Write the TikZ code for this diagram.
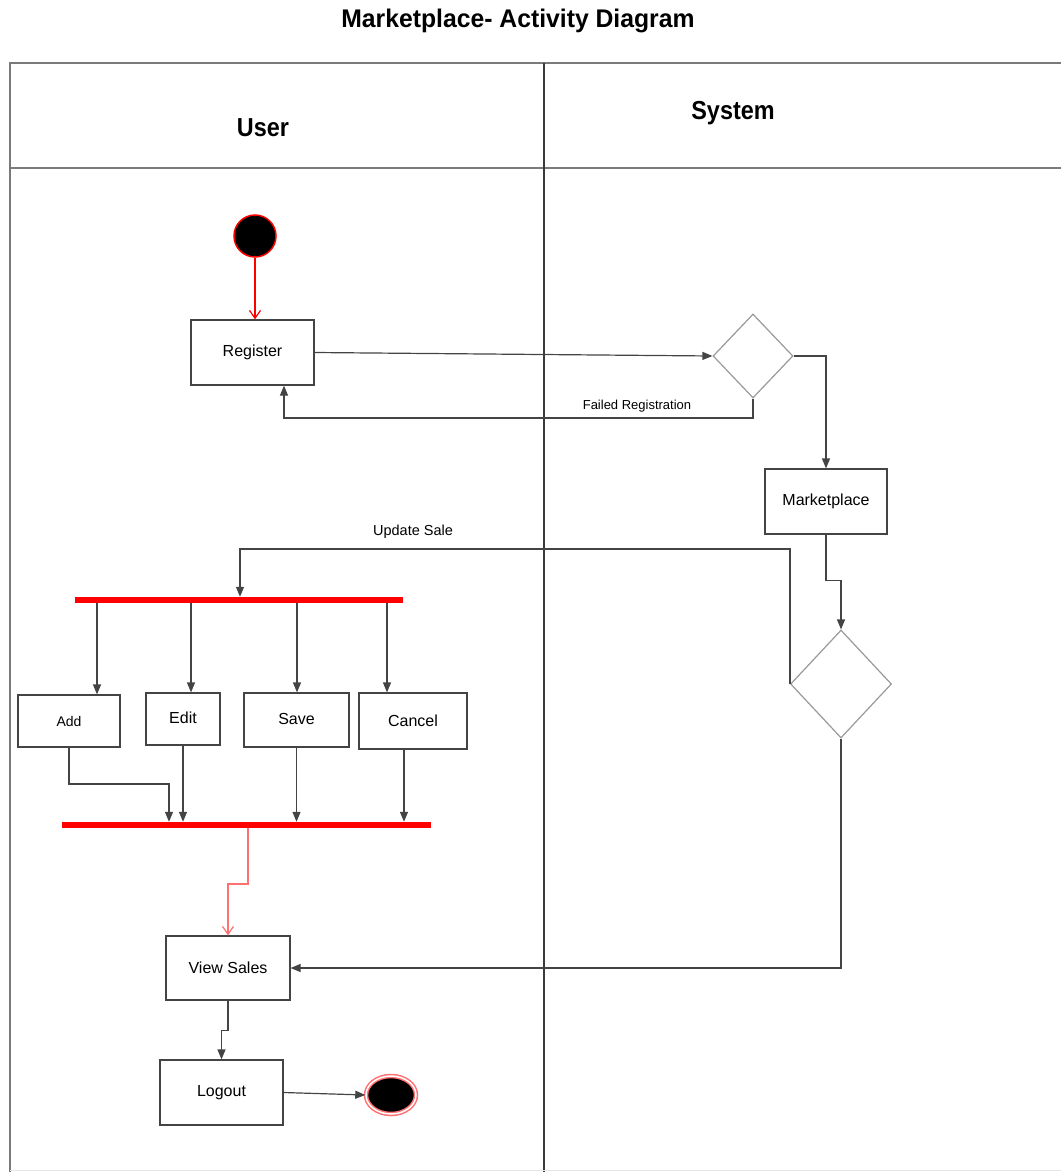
\documentclass[tikz,border=0pt]{standalone}
\usepackage{fontspec}
\setmainfont{Liberation Sans}
\usetikzlibrary{arrows.meta,shapes.geometric,calc}
\definecolor{lane}{HTML}{7A7A7A}
\definecolor{lanedark}{HTML}{3A3A3A}
\definecolor{conncol}{HTML}{444444}
\definecolor{barred}{HTML}{FF0000}
\definecolor{pinkline}{HTML}{FF7070}
\tikzset{
  actbox/.style={draw=conncol, line width=1.2pt, fill=white, inner sep=0pt, font=\fontsize{16}{19}\selectfont},
  decide/.style={draw=gray!80, line width=1.2pt, diamond, inner sep=0pt},
  syncbar/.style={fill=barred, inner sep=0pt, minimum height=6pt},
  conn/.style={draw=conncol, line width=1.2pt, -{Triangle[length=10pt,width=8pt]}},
  pinkconn/.style={draw=pinkline, line width=1.2pt, -{Straight Barb[length=8pt,width=11pt]}},
  lanel/.style={line width=2pt, draw=lane},
  lbl/.style={inner sep=0pt, font=\fontsize{13}{15}\selectfont},
  headl/.style={inner sep=0pt, font=\fontsize{26}{30}\selectfont\bfseries}
}
\begin{document}
\begin{tikzpicture}[x=1pt,y=-1pt]
\useasboundingbox (0,0) rectangle (1061,1172);
% title
\node[inner sep=0pt] (title) at (518,21) {\scalebox{0.97}[1]{\fontsize{25.5}{30}\selectfont\bfseries Marketplace- Activity Diagram}};
% swimlanes
\draw[lanel] (10,1172) -- (10,63) -- (1061,63);
\draw[lanel] (10,168) -- (1061,168);
\draw[line width=2pt, draw=lanedark] (544,63) -- (544,1172);
\draw[line width=1pt, draw=gray!20] (10,1170) -- (1061,1170);
\node[headl] (user) at (263,128) {\scalebox{0.9}[1]{User}};
\node[headl] (system) at (733,113) {\scalebox{0.9}[1]{System}};
% nodes
\node[circle, fill=black, draw=red, line width=1.5pt, minimum size=42pt, inner sep=0pt] (start) at (255,236) {};
\node[actbox, minimum width=123pt, minimum height=65pt] (reg) at (252.5,352.5) {Register};
\node[decide, minimum width=80pt, minimum height=84pt, aspect=0.95] (d1) at (753,356) {};
\node[actbox, minimum width=122pt, minimum height=65pt] (mk) at (826,501.5) {Marketplace};
\node[decide, minimum width=101pt, minimum height=108pt, aspect=0.94] (d2) at (841,684) {};
\node[syncbar, minimum width=328pt] (bar1) at (239,600) {};
\node[actbox, minimum width=102pt, minimum height=52pt, font=\fontsize{14}{17}\selectfont] (add) at (69,721) {Add};
\node[actbox, minimum width=74pt, minimum height=52pt] (edit) at (183,719) {\raisebox{2pt}{Edit}};
\node[actbox, minimum width=105pt, minimum height=54pt] (save) at (296.5,720) {\raisebox{2pt}{Save}};
\node[actbox, minimum width=108pt, minimum height=56pt] (cancel) at (413,721) {Cancel};
\node[syncbar, minimum width=369pt] (bar2) at (246.5,825) {};
\node[actbox, minimum width=124pt, minimum height=64pt] (vs) at (228,968) {View Sales};
\node[actbox, minimum width=123pt, minimum height=65pt] (lo) at (221.5,1092.5) {Logout};
\node[ellipse, fill=black, draw=pinkline, line width=1.5pt, double=white, double distance=1.5pt, minimum width=50pt, minimum height=38pt, inner sep=0pt] (end) at (391,1095) {};
% helper coordinates
\coordinate (fr) at (284,418);
\coordinate (us) at (240,549);
\coordinate (xa) at (97,0);
\coordinate (xe) at (191,0);
\coordinate (xs) at (297,0);
\coordinate (xc) at (387,0);
\coordinate (j1) at (169,784);
\coordinate (xj) at (404,0);
\coordinate (r1) at (248,884);
% connectors
\draw[pinkconn, draw=red] (start) -- (reg.north -| start);
\draw[conn] (reg.east) -- (d1.west);
\draw[conn] (d1.south) |- (fr) -- (reg.south -| fr);
\node[lbl] (failed) at (637,406) {Failed Registration};
\draw[conn] (d1.east) -| (mk.north);
\draw[conn] (mk.south) -- ++(0,46) -| (d2.north);
\draw[conn] (d2.west) |- (us) -- (bar1.north -| us);
\node[lbl, font=\fontsize{14.5}{17}\selectfont] (update) at (413,532) {Update Sale};
\draw[conn] (d2.south) |- (vs.east);
\draw[conn] (bar1.south -| xa) -- (add.north -| xa);
\draw[conn] (bar1.south -| xe) -- (edit.north -| xe);
\draw[conn] (bar1.south -| xs) -- (save.north -| xs);
\draw[conn] (bar1.south -| xc) -- (cancel.north -| xc);
\draw[conn] (add.south) |- (j1) -- (bar2.north -| j1);
\draw[conn] (edit.south) -- (bar2.north -| edit.south);
\draw[conn] (save.south) -- (bar2.north -| save.south);
\draw[conn] (cancel.south -| xj) -- (bar2.north -| xj);
\draw[pinkconn] (bar2.south -| r1) -- (r1) -| (vs.north);
\draw[conn] (vs.south) -- ++(0,30) -| (lo.north);
\draw[conn] (lo.east) -- (end.west);
\end{tikzpicture}
\end{document}
